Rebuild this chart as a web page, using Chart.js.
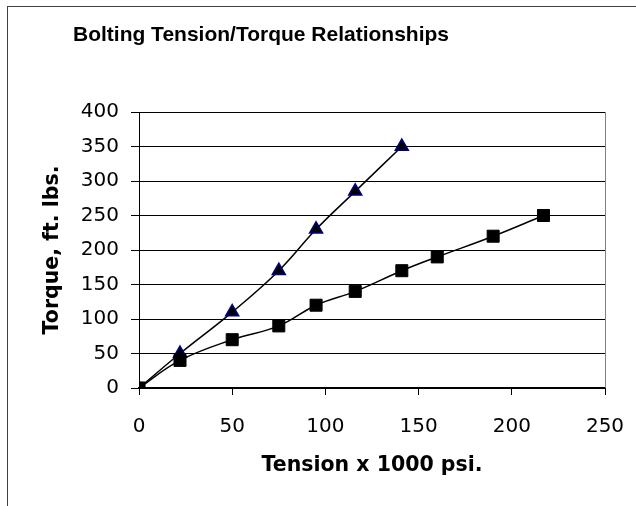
<!DOCTYPE html>
<html>
<head>
<meta charset="utf-8">
<script src="https://cdn.jsdelivr.net/npm/chart.js@4/dist/chart.umd.min.js"></script>
<style>
  html, body { margin: 0; padding: 0; background: #fff; }
  #wrap { width: 636px; height: 506px; overflow: hidden; }
</style>
</head>
<body>
<div id="wrap"><canvas id="chart" width="636" height="506"></canvas></div>
<script>
var CHART_TITLE = "Bolting Tension/Torque Relationships";
var X_TITLE = "Tension x 1000 psi.";
var Y_TITLE = "Torque, ft. lbs.";

// tension (x 1000 psi) and torque (ft. lbs.)
var squareTension = [0, 22, 50, 75, 95, 116, 141, 160, 190, 217];
var squareTorque = [0, 40, 70, 90, 120, 140, 170, 190, 220, 250];
var triangleTension = [0, 22, 50, 75, 95, 116, 141];
var triangleTorque = [0, 50, 110, 170, 230, 285, 350];

var X_MIN = 0, X_MAX = 250, X_STEP = 50;
var Y_MIN = 0, Y_MAX = 400, Y_STEP = 50;

var TITLE_FONT = "'Liberation Sans', Arial, sans-serif";
var AXIS_FONT = "'DejaVu Sans', sans-serif";

function toPoints(xs, ys) {
  return xs.map(function (x, i) {
    return { x: x, y: ys[i] };
  });
}

var framePlugin = {
  id: "frame",
  beforeDraw: function (chart) {
    var ctx = chart.ctx;
    ctx.save();
    ctx.fillStyle = "#ffffff";
    ctx.fillRect(0, 0, chart.width, chart.height);
    ctx.strokeStyle = "#404040";
    ctx.lineWidth = 1;
    ctx.strokeRect(7.5, 6.5, 800, 700);
    ctx.restore();
  },
  afterDraw: function (chart) {
    var ctx = chart.ctx;
    var area = chart.chartArea;
    ctx.save();
    ctx.strokeStyle = "#808080";
    ctx.lineWidth = 1;
    ctx.beginPath();
    ctx.moveTo(Math.round(area.right) + 0.5, area.top);
    ctx.lineTo(Math.round(area.right) + 0.5, area.bottom);
    ctx.stroke();
    ctx.fillStyle = "#000000";
    ctx.font = "bold 21px " + TITLE_FONT;
    ctx.textAlign = "center";
    ctx.textBaseline = "alphabetic";
    ctx.fillText(CHART_TITLE, 261, 41);
    ctx.restore();
  }
};

new Chart(document.getElementById("chart"), {
  type: "line",
  data: {
    datasets: [{
      label: "Series 1",
      data: toPoints(squareTension, squareTorque),
      borderColor: "#000000",
      borderWidth: 1.5,
      tension: 0.4,
      pointStyle: "rect",
      pointRadius: 8.5,
      pointBackgroundColor: "#000000",
      pointBorderColor: "#000000",
      pointBorderWidth: 1
    }, {
      label: "Series 2",
      data: toPoints(triangleTension, triangleTorque),
      borderColor: "#000000",
      borderWidth: 1.5,
      tension: 0.4,
      pointStyle: "triangle",
      pointRadius: 7.5,
      pointBackgroundColor: "#000000",
      pointBorderColor: "#000080",
      pointBorderWidth: 1.5
    }]
  },
  options: {
    responsive: false,
    animation: false,
    events: [],
    layout: { padding: { top: 112, right: 31, left: 0, bottom: 0 } },
    plugins: {
      legend: { display: false },
      tooltip: { enabled: false }
    },
    scales: {
      x: {
        type: "linear",
        min: X_MIN,
        max: X_MAX,
        afterFit: function (scale) {
          scale.height = 118;
          scale.paddingLeft = 0;
          scale.paddingRight = 0;
        },
        ticks: {
          stepSize: X_STEP,
          color: "#000000",
          font: { family: AXIS_FONT, size: 20 },
          padding: 20,
          maxRotation: 0
        },
        grid: { drawOnChartArea: false, drawTicks: true, tickLength: 7, color: "#000000" },
        border: { color: "#000000", width: 2 },
        title: {
          display: true,
          text: X_TITLE,
          color: "#000000",
          font: { family: AXIS_FONT, size: 20.5, weight: "bold" },
          padding: { top: 0, bottom: 28 }
        }
      },
      y: {
        min: Y_MIN,
        max: Y_MAX,
        afterFit: function (scale) {
          scale.width = 139;
          scale.paddingTop = 0;
          scale.paddingBottom = 0;
        },
        ticks: {
          stepSize: Y_STEP,
          color: "#000000",
          font: { family: AXIS_FONT, size: 20 },
          padding: 12
        },
        grid: { color: "#000000", lineWidth: 1, tickLength: 8 },
        border: { color: "#000000", width: 1 },
        title: {
          display: true,
          text: Y_TITLE,
          color: "#000000",
          font: { family: AXIS_FONT, size: 20.5, weight: "bold" },
          padding: { top: 40, bottom: 0 }
        }
      }
    }
  },
  plugins: [framePlugin]
});
</script>
</body>
</html>
